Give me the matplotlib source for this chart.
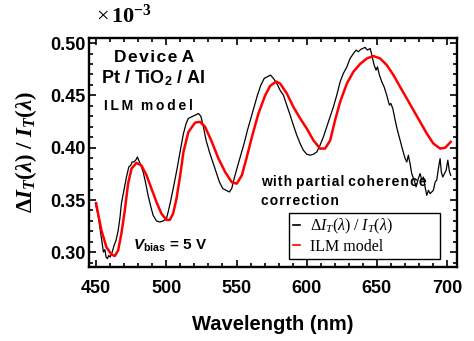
import matplotlib
matplotlib.use("Agg")
import matplotlib.pyplot as plt
from matplotlib.ticker import MultipleLocator, FormatStrFormatter

plt.rcParams['mathtext.fontset'] = 'custom'
plt.rcParams['mathtext.rm'] = 'Liberation Serif'
plt.rcParams['mathtext.it'] = 'Liberation Serif:italic'
plt.rcParams['mathtext.bf'] = 'Liberation Serif:bold'
plt.rcParams['mathtext.bfit'] = 'Liberation Serif:italic:bold'
plt.rcParams['mathtext.sf'] = 'Liberation Sans:italic:bold'
plt.rcParams['mathtext.tt'] = 'Liberation Sans:bold'

# measured spectrum (x 1e-3)
meas_wl = [449.5, 451.4, 453.3, 454.3, 455.2, 456.2, 457.1, 458.0, 459.0, 460.0,
           461.4, 462.8, 464.2, 465.7, 466.9, 468.0, 470.0, 471.6, 473.3, 474.7,
           475.6, 477.0, 478.5, 479.4, 480.4, 481.8, 483.5, 485.1, 487.0, 489.0,
           490.6, 493.0, 495.4, 497.7, 500.1, 501.3, 503.2, 505.6, 507.9, 510.0,
           512.2, 514.1, 515.7, 518.1, 520.5, 522.9, 524.6, 526.4, 528.3, 530.7,
           533.1, 535.5, 537.8, 540.2, 542.6, 544.9, 546.6, 548.3, 550.6, 553.0,
           555.4, 557.8, 560.2, 562.5, 564.9, 567.3, 569.7, 572.0, 574.2, 576.3,
           578.7, 581.0, 583.4, 585.8, 588.2, 590.5, 592.9, 595.3, 597.6, 600.0,
           602.4, 604.8, 607.2, 609.5, 611.9, 614.3, 616.7, 619.0, 621.4, 623.8,
           626.1, 628.6, 630.9, 633.3, 635.2, 636.8, 638.5, 639.9, 641.6, 643.2,
           645.2, 646.4, 648.0, 649.4, 650.4, 651.8, 653.5, 655.1, 657.0, 658.9,
           659.9, 661.3, 663.0, 664.6, 666.5, 668.4, 670.1, 671.3, 672.4, 673.6,
           674.8, 676.5, 677.9, 679.5, 680.8, 682.0, 683.1, 684.3, 685.5, 686.7,
           687.9, 689.1, 690.2, 691.5, 692.6, 693.8, 695.0, 695.9, 696.9, 698.1,
           699.3, 700.5, 701.7, 702.6]
meas_val = [0.3466, 0.3354, 0.3180, 0.3083, 0.3003, 0.3026, 0.2955, 0.2940, 0.2970, 0.2955,
            0.3000, 0.3067, 0.3115, 0.3210, 0.3322, 0.3466, 0.3610, 0.3720, 0.3817, 0.3833,
            0.3864, 0.3864, 0.3887, 0.3912, 0.3880, 0.3833, 0.3768, 0.3673, 0.3545, 0.3434,
            0.3354, 0.3300, 0.3290, 0.3300, 0.3322, 0.3386, 0.3498, 0.3657, 0.3817, 0.3976,
            0.4136, 0.4232, 0.4280, 0.4295, 0.4311, 0.4327, 0.4301, 0.4200, 0.4072, 0.3960,
            0.3864, 0.3768, 0.3673, 0.3610, 0.3593, 0.3577, 0.3610, 0.3705, 0.3817, 0.3928,
            0.4040, 0.4168, 0.4280, 0.4390, 0.4502, 0.4598, 0.4662, 0.4678, 0.4694, 0.4662,
            0.4614, 0.4550, 0.4502, 0.4407, 0.4311, 0.4215, 0.4120, 0.4040, 0.3976, 0.3938,
            0.3928, 0.3938, 0.3960, 0.4024, 0.4104, 0.4200, 0.4295, 0.4390, 0.4502, 0.4630,
            0.4710, 0.4773, 0.4853, 0.4901, 0.4933, 0.4917, 0.4940, 0.4949, 0.4959, 0.4933,
            0.4949, 0.4885, 0.4790, 0.4742, 0.4773, 0.4694, 0.4630, 0.4582, 0.4502, 0.4407,
            0.4423, 0.4375, 0.4263, 0.4168, 0.4072, 0.3976, 0.3896, 0.3864, 0.3928, 0.3849,
            0.3753, 0.3690, 0.3625, 0.3705, 0.3753, 0.3690, 0.3720, 0.3625, 0.3545, 0.3593,
            0.3561, 0.3577, 0.3593, 0.3673, 0.3690, 0.3801, 0.3896, 0.3768, 0.3720, 0.3753,
            0.3784, 0.3880, 0.3768, 0.3737]

# ILM model
model_wl = [450.0, 451.4, 453.8, 457.3, 460.9, 463.3, 465.7, 468.0, 470.4, 472.8,
            475.2, 478.7, 482.3, 485.8, 489.4, 493.0, 496.5, 500.1, 502.5, 504.8,
            507.2, 509.7, 512.2, 515.7, 520.5, 524.1, 527.6, 532.4, 537.1, 541.9,
            546.6, 550.2, 553.8, 557.3, 560.9, 565.6, 570.4, 573.9, 578.2, 581.0,
            585.8, 590.5, 595.3, 600.0, 604.8, 609.5, 613.1, 616.7, 620.2, 623.8,
            628.6, 633.3, 638.0, 642.8, 647.5, 652.3, 657.0, 661.8, 666.5, 671.3,
            676.0, 680.8, 685.5, 690.2, 695.0, 698.6, 702.6]
model_val = [0.3470, 0.3370, 0.3210, 0.3050, 0.2980, 0.2965, 0.3020, 0.3180, 0.3400, 0.3660,
             0.3800, 0.3855, 0.3830, 0.3740, 0.3610, 0.3480, 0.3370, 0.3310, 0.3310, 0.3370,
             0.3510, 0.3720, 0.3960, 0.4150, 0.4240, 0.4247, 0.4200, 0.4056, 0.3897, 0.3768,
             0.3670, 0.3657, 0.3737, 0.3910, 0.4100, 0.4327, 0.4500, 0.4590, 0.4632, 0.4614,
             0.4519, 0.4390, 0.4280, 0.4184, 0.4070, 0.3992, 0.3992, 0.4070, 0.4263, 0.4438,
             0.4614, 0.4727, 0.4800, 0.4853, 0.4876, 0.4853, 0.4790, 0.4694, 0.4582, 0.4470,
             0.4359, 0.4247, 0.4136, 0.4040, 0.3992, 0.4000, 0.4056]

fig = plt.figure(figsize=(4.74, 3.41), dpi=100)
ax = fig.add_axes([0.188, 0.217, 0.776, 0.672])

ax.plot(meas_wl, meas_val, color='black', lw=0.9,
        label=r'$\Delta I_T(\lambda)\ /\ I_T(\lambda)$')
ax.plot(model_wl, model_val, color='#ff0000', lw=1.8, label='ILM model')

ax.set_xlim(445, 707)
ax.set_ylim(0.286, 0.505)
ax.xaxis.set_major_locator(MultipleLocator(50))
ax.xaxis.set_minor_locator(MultipleLocator(10))
ax.yaxis.set_major_locator(MultipleLocator(0.05))
ax.yaxis.set_minor_locator(MultipleLocator(0.01))
ax.yaxis.set_major_formatter(FormatStrFormatter('%.2f'))
ax.tick_params(which='both', direction='in', top=True, right=True, width=1.2)
ax.tick_params(which='major', length=5, labelsize=13)
ax.tick_params(which='minor', length=3)
ax.tick_params(axis='x', which='major', pad=9)
ax.tick_params(axis='y', which='major', pad=2.5)
for lab in ax.get_xticklabels() + ax.get_yticklabels():
    lab.set_fontweight('bold')
    lab.set_fontfamily('Liberation Sans')
for s in ax.spines.values():
    s.set_linewidth(1.7)

ax.set_xlabel('Wavelength (nm)', fontsize=14.5, fontweight='bold',
              family='Liberation Sans', labelpad=13)
fig.text(0.054, 0.555,
         r'$\mathbf{\Delta}\mathbfit{I}_{\mathbfit{T}}\mathbf{(}\mathbfit{\lambda}\mathbf{)\ /\ }'
         r'\mathbfit{I}_{\mathbfit{T}}\mathbf{(}\mathbfit{\lambda}\mathbf{)}$',
         rotation=90, fontsize=16.5, ha='center', va='center')
fig.text(0.203, 0.954, r'$\times\,\mathbf{10^{-3}}$', fontsize=16,
         ha='left', va='center')

fam = ['Liberation Sans', 'DejaVu Sans']
hs = '\u200a'
ts = '\u2009'
kw = dict(transform=ax.transAxes, fontweight='bold', family=fam,
          ha='center', va='center')
ax.text(0.177, 0.915, hs.join('Device') + ' ' + 'A', fontsize=12.5, **kw)
ax.text(0.175, 0.825, r'Pt / TiO$_\mathtt{2}$ / Al', fontsize=13, **kw)
ax.text(0.162, 0.703, ts.join('ILM') + '  ' + ts.join('model'), fontsize=10, **kw)
ax.text(0.22, 0.092, r'$\mathsf{V}_{\mathtt{bias}}$ = 5 V', fontsize=11, **kw)
lkw = dict(transform=ax.transAxes, fontweight='bold', family=fam,
           ha='left', va='center', fontsize=10)
ax.text(0.467, 0.37, ' '.join(hs.join(w) for w in 'with partial coherence'.split()), **lkw)
ax.text(0.467, 0.288, hs.join('correction'), **lkw)

leg = ax.legend(loc='lower left', bbox_to_anchor=(0.543, 0.035, 0.411, 0.183),
                mode='expand',
                prop={'family': 'Liberation Serif', 'size': 11.5},
                handlelength=0.45, handletextpad=0.6, borderpad=0.25,
                labelspacing=0.2, fancybox=False, framealpha=1,
                edgecolor='black', borderaxespad=0)
leg.get_frame().set_linewidth(1.0)
for line in leg.get_lines():
    line.set_linewidth(1.2)

fig.savefig('out.png', dpi=100)
